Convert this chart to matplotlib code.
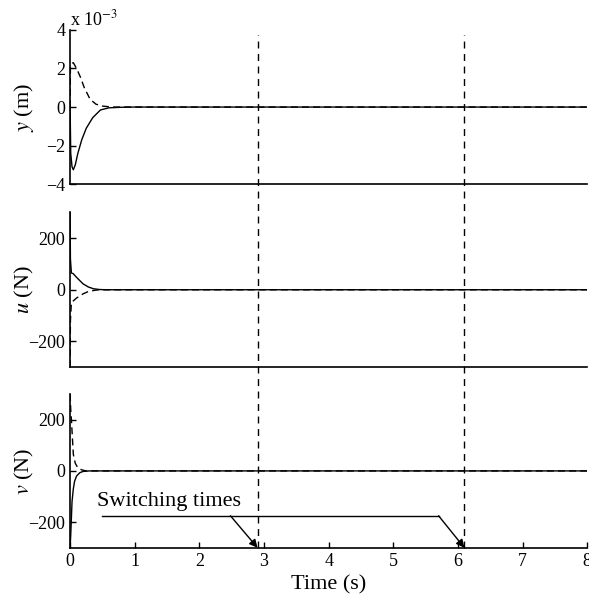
import matplotlib
matplotlib.use("Agg")
import matplotlib.pyplot as plt
from matplotlib import transforms
from matplotlib.lines import Line2D

plt.rcParams['font.family'] = ['Liberation Serif', 'DejaVu Serif']
plt.rcParams['mathtext.fontset'] = 'stix'
plt.rcParams['font.size'] = 13

# y (m), in units of 1e-3
y_t_solid = [0, 0.01, 0.03, 0.05, 0.08, 0.12, 0.18, 0.25, 0.35, 0.47, 0.6, 0.8, 1.0, 8]
y_solid = [0, -2.4, -3.1, -3.25, -3.0, -2.4, -1.7, -1.1, -0.55, -0.15, -0.04, -0.01, 0, 0]
y_t_dash = [0, 0.005, 0.02, 0.05, 0.1, 0.16, 0.22, 0.31, 0.4, 0.5, 0.65, 8]
y_dash = [0, 2.1, 2.25, 2.3, 2.0, 1.55, 1.0, 0.4, 0.15, 0.05, 0.0, 0]

# u (N)
u_t_solid = [0, 0.005, 0.02, 0.05, 0.1, 0.2, 0.28, 0.36, 0.45, 0.55, 8]
u_solid = [300, 120, 65, 62, 48, 23, 11, 4, 1, 0, 0]
u_t_dash = [0, 0.005, 0.02, 0.05, 0.1, 0.2, 0.28, 0.36, 0.45, 8]
u_dash = [-300, -120, -50, -43, -32, -16, -7, -3, 0, 0]

# v (N)
v_t_solid = [0, 0.01, 0.03, 0.05, 0.07, 0.1, 0.15, 0.2, 0.3, 8]
v_solid = [-300, -250, -120, -70, -40, -20, -7, -2, 0, 0]
v_t_dash = [0, 0.01, 0.02, 0.05, 0.08, 0.12, 0.18, 0.25, 8]
v_dash = [300, 240, 200, 65, 30, 12, 4, 0, 0]

switch_times = [2.9, 6.1]
x_ticks = [0, 1, 2, 3, 4, 5, 6, 7, 8]

fig = plt.figure(figsize=(5.89, 6.10), dpi=100)
ax1 = fig.add_axes([0.119, 0.698, 0.878, 0.253])
ax2 = fig.add_axes([0.119, 0.398, 0.878, 0.254])
ax3 = fig.add_axes([0.119, 0.102, 0.878, 0.252])

dash = (0, (5, 3))

ax1.plot(y_t_solid, y_solid, color='black', lw=1.0)
ax1.plot(y_t_dash, y_dash, color='black', lw=1.0, linestyle=dash)
ax1.set_ylim(-4, 4)
ax1.set_yticks([-4, -2, 0, 2, 4])
ax1.set_ylabel('$y$ (m)', fontsize=16)
ax1.text(0.0, 1.005, r'x 10$^{-3}$', transform=ax1.transAxes, ha='left', va='bottom', fontsize=13)

ax2.plot(u_t_solid, u_solid, color='black', lw=1.0)
ax2.plot(u_t_dash, u_dash, color='black', lw=1.0, linestyle=dash)
ax2.set_ylim(-300, 300)
ax2.set_yticks([-200, 0, 200])
ax2.set_ylabel('$u$ (N)', fontsize=16)

ax3.plot(v_t_solid, v_solid, color='black', lw=1.0)
ax3.plot(v_t_dash, v_dash, color='black', lw=1.0, linestyle=dash)
ax3.set_ylim(-300, 300)
ax3.set_yticks([-200, 0, 200])
ax3.set_ylabel('$v$ (N)', fontsize=16)
ax3.set_xlabel('Time (s)', fontsize=16)

for ax in (ax1, ax2, ax3):
    ax.set_xlim(0, 8)
    ax.spines['top'].set_visible(False)
    ax.spines['right'].set_visible(False)
    ax.spines['left'].set_linewidth(1.2)
    ax.spines['bottom'].set_linewidth(1.2)
    ax.tick_params(direction='in', length=4, width=1, labelsize=13)
    ax.yaxis.set_label_coords(-0.066, 0.5)

for ax in (ax1, ax2):
    ax.set_xticks([])
ax3.set_xticks(x_ticks)

# vertical switching lines spanning all panels
trans = transforms.blended_transform_factory(ax3.transData, fig.transFigure)
for ts in switch_times:
    fig.add_artist(Line2D([ts, ts], [0.102, 0.943], transform=trans, color='black',
                          lw=1.0, linestyle=(0, (5, 4))))

# annotation
ax3.plot([0.5, 5.7], [-175, -175], color='black', lw=1.0)
ax3.annotate('', xy=(switch_times[0], -300), xytext=(2.48, -175),
             arrowprops=dict(arrowstyle='-|>', color='black', lw=1.0, mutation_scale=12,
                             shrinkA=0, shrinkB=0))
ax3.annotate('', xy=(switch_times[1], -300), xytext=(5.7, -175),
             arrowprops=dict(arrowstyle='-|>', color='black', lw=1.0, mutation_scale=12,
                             shrinkA=0, shrinkB=0))
ax3.text(0.42, -118, 'Switching times', ha='left', va='center', fontsize=16)

fig.savefig('out.png', dpi=100)
